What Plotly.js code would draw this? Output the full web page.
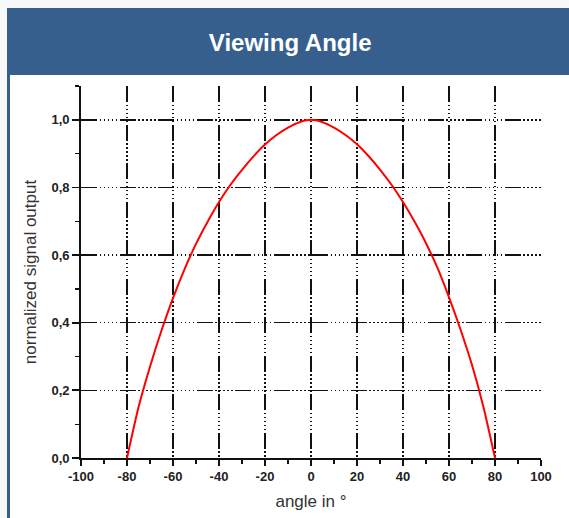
<!DOCTYPE html>
<html>
<head>
<meta charset="utf-8">
<script src="https://cdn.plot.ly/plotly-3.0.1.min.js"></script>
<style>
  html, body { margin: 0; padding: 0; }
  body { width: 569px; height: 518px; background: #f8f8f8; position: relative; overflow: hidden; }
  #header { position: absolute; left: 7px; top: 8px; width: 562px; height: 67px; background: #365f8e; }
  #strip { position: absolute; left: 7px; top: 75px; width: 3px; height: 443px; background: #365f8e; }
  #panel { position: absolute; left: 10px; top: 75px; width: 559px; height: 443px; background: #ffffff; }
  #chart { position: absolute; left: 0; top: 0; width: 569px; height: 518px; }
</style>
</head>
<body>
<div id="header"></div>
<div id="strip"></div>
<div id="panel"></div>
<div id="chart"></div>
<script>
// Data
const angles = [-80, -75, -70, -65, -60, -55, -50, -45, -40, -35, -30, -25, -20, -15, -10, -5, 0,
                5, 10, 15, 20, 25, 30, 35, 40, 45, 50, 55, 60, 65, 70, 75, 80];
const signal = [0, 0.15, 0.27, 0.377, 0.473, 0.558, 0.633, 0.698, 0.757, 0.808, 0.852, 0.892, 0.927, 0.955, 0.977, 0.993, 1.0,
                0.993, 0.977, 0.955, 0.928, 0.893, 0.853, 0.808, 0.757, 0.699, 0.635, 0.562, 0.475, 0.38, 0.275, 0.15, 0];

const xTickVals = [-100, -80, -60, -40, -20, 0, 20, 40, 60, 80, 100];
const xTickText = ["-100", "-80", "-60", "-40", "-20", "0", "20", "40", "60", "80", "100"];
const yTickVals = [0, 0.2, 0.4, 0.6, 0.8, 1.0];
const yTickText = ["0,0", "0,2", "0,4", "0,6", "0,8", "1,0"];

const gridDash = "16px,2.5px,1.5px,2.5px,1.5px,2.5px,1.5px,2.5px,1.5px,2.5px,1.5px,2.5px";
const tickFont = { family: "Liberation Sans, Arial, sans-serif", size: 13, color: "#222", weight: "bold" };
const axTitleFont = { family: "Liberation Sans, Arial, sans-serif", size: 17, color: "#333" };

const trace = {
  x: angles,
  y: signal,
  type: "scatter",
  mode: "lines",
  line: { color: "#ff0000", width: 2, shape: "spline", smoothing: 0.6 },
  hoverinfo: "x+y"
};

const layout = {
  width: 569,
  height: 518,
  margin: { l: 81, r: 28, t: 86, b: 60, pad: 0 },
  paper_bgcolor: "rgba(0,0,0,0)",
  plot_bgcolor: "rgba(0,0,0,0)",
  showlegend: false,
  separators: ",.",
  title: {
    text: "Viewing Angle",
    font: { family: "Liberation Sans, Arial, sans-serif", size: 24, color: "#ffffff", weight: "bold" },
    xref: "container", yref: "container",
    x: 0.51, y: 0.917, xanchor: "center", yanchor: "middle"
  },
  xaxis: {
    range: [-100, 100],
    tickmode: "array",
    tickvals: xTickVals,
    ticktext: xTickText,
    ticks: "outside", ticklen: 6, tickwidth: 1.8, tickcolor: "#111",
    showline: true, linecolor: "#111", linewidth: 1.8,
    showgrid: true, gridcolor: "#111", gridwidth: 1.5, griddash: gridDash,
    zeroline: false,
    tickfont: tickFont,
    minor: { dtick: 10, tick0: 0, ticks: "outside", ticklen: 4, tickwidth: 1.3, tickcolor: "#111", showgrid: false },
    title: { text: "angle in °", font: axTitleFont, standoff: 12 },
    fixedrange: true
  },
  yaxis: {
    range: [0, 1.1],
    tickmode: "array",
    tickvals: yTickVals,
    ticktext: yTickText,
    ticks: "outside", ticklen: 7, tickwidth: 1.8, tickcolor: "#111",
    showline: true, linecolor: "#111", linewidth: 1.8,
    showgrid: true, gridcolor: "#111", gridwidth: 1.5, griddash: gridDash,
    zeroline: false,
    tickfont: tickFont,
    minor: { dtick: 0.1, tick0: 0, ticks: "outside", ticklen: 4, tickwidth: 1.3, tickcolor: "#111", showgrid: false },
    title: { text: "normalized signal output", font: axTitleFont, standoff: 10 },
    fixedrange: true
  }
};

Plotly.newPlot("chart", [trace], layout, { displayModeBar: false, staticPlot: true });
</script>
</body>
</html>
